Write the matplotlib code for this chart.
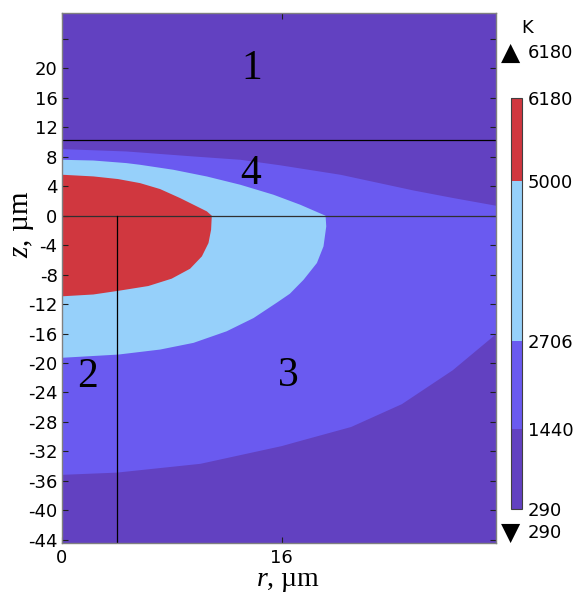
import numpy as np
import matplotlib
matplotlib.use('Agg')
from matplotlib import pyplot as plt
from matplotlib.colors import ListedColormap, BoundaryNorm
from matplotlib.cm import ScalarMappable

plt.rcParams['axes.unicode_minus'] = False
plt.rcParams['mathtext.fontset'] = 'custom'
plt.rcParams['mathtext.rm'] = 'Liberation Serif'
plt.rcParams['mathtext.it'] = 'Liberation Serif:italic'

# temperature levels, K
levels = [290, 1440, 2706, 5000, 6180]
colors = ['#6241c1', '#6a5af0', '#96d0fa', '#d0373f']

# isotherm boundaries (r, z in um), from the axis r=0 around to r=0
r_1440 = [0, 4.7, 9.6, 13.0, 15.9, 20.3, 25.6, 28.5, 31.6,
          31.6, 28.45, 24.75, 21.06, 17.35, 16.0, 10.1, 4.0, 0]
z_1440 = [9.05, 8.73, 8.05, 7.6, 6.85, 5.56, 3.43, 2.4, 1.36,
          -16.1, -21.0, -25.6, -28.7, -30.6, -31.3, -33.7, -34.9, -35.2]

r_2706 = [0, 2.3, 4.7, 5.7, 8.13, 10.56, 12.99, 15.41, 17.36, 19.2,
          19.25, 19.05, 18.57, 17.6, 16.6, 15.66, 13.96, 12.0, 9.59, 7.16, 4.12, 0]
z_2706 = [7.6, 7.5, 7.15, 6.92, 6.24, 5.33, 4.21, 2.85, 1.49, 0,
          -1.45, -4.16, -6.42, -8.7, -10.6, -11.8, -13.9, -15.7, -17.27, -18.18, -18.86, -19.3]

r_5000 = [0, 2.3, 4.1, 5.7, 7.16, 8.61, 9.83, 10.56, 10.92,
          10.87, 10.68, 10.2, 9.34, 8.0, 6.3, 4.12, 2.3, 0]
z_5000 = [5.57, 5.34, 4.98, 4.43, 3.62, 2.40, 1.27, 0.59, 0,
          -1.9, -3.71, -5.52, -7.2, -8.55, -9.55, -10.2, -10.7, -10.95]

# domain lines
z_top_boundary = 10.3
r_vert = 4.0

# region labels
region_text = ['1', '4', '2', '3']
region_r = [13.84, 13.77, 1.86, 16.5]
region_z = [19.95, 5.7, -21.9, -21.8]

cmap = ListedColormap(colors)
norm = BoundaryNorm(levels, cmap.N)

fig = plt.figure(figsize=(5.79, 5.93), dpi=100)
ax = fig.add_axes([0.1066, 0.0838, 0.75, 0.8938])
ax.set_facecolor(cmap(norm(300)))

ax.fill(r_1440, z_1440, color=cmap(norm(2000)), lw=0)
ax.fill(r_2706, z_2706, color=cmap(norm(3000)), lw=0)
ax.fill(r_5000, z_5000, color=cmap(norm(5500)), lw=0)

ax.axhline(z_top_boundary, color='black', lw=0.9)
ax.axhline(0, color='#303030', lw=0.9)
ax.plot([r_vert, r_vert], [0, -50], color='black', lw=0.9)

for t, r, z in zip(region_text, region_r, region_z):
    ax.text(r, z, t, fontsize=30, family='Liberation Serif', ha='center', va='center')

ax.set_xlim(0, 31.6)
ax.set_ylim(-44.5, 27.5)
ax.set_xticks([0, 16])
ax.set_yticks(np.arange(-44, 25, 4))
ax.set_yticklabels([str(v) if v != 24 else '' for v in range(-44, 25, 4)])
ax.tick_params(direction='in', length=4, width=0.8, top=True, right=True,
               labelsize=13, pad=3, color='#202020')
ax.tick_params(axis='x', pad=4)
for s in ax.spines.values():
    s.set_color('#808080')
    s.set_linewidth(1.0)

ax.set_xlabel(r'$\it{r}$, µm', fontsize=20, family='Liberation Serif')
ax.set_ylabel(r'$\it{z}$, µm', fontsize=21, family='Liberation Serif')
ax.xaxis.label.set_va('baseline')
ax.yaxis.label.set_va('baseline')
ax.xaxis.set_label_coords(0.52, -0.0805)
ax.yaxis.set_label_coords(-0.078, 0.602)

cax = fig.add_axes([0.8826, 0.1417, 0.0195, 0.6926])
sm = ScalarMappable(norm=norm, cmap=cmap)
cb = fig.colorbar(sm, cax=cax, ticks=levels, spacing='proportional')
cb.ax.tick_params(length=0, labelsize=13, pad=4)
cb.outline.set_edgecolor('#404040')
cb.outline.set_linewidth(0.8)

fig.text(526.7 / 579, 1 - 28 / 593, 'K', fontsize=13, ha='center', va='center')
fig.text(510.7 / 579, 1 - 53 / 593, '\u25b2', fontsize=18, ha='center', va='center')
fig.text(528 / 579, 1 - 53 / 593, str(levels[-1]), fontsize=13, ha='left', va='center')
fig.text(510.7 / 579, 1 - 533 / 593, '\u25bc', fontsize=18, ha='center', va='center')
fig.text(528 / 579, 1 - 533 / 593, str(levels[0]), fontsize=13, ha='left', va='center')

fig.savefig('out.png', dpi=100)
